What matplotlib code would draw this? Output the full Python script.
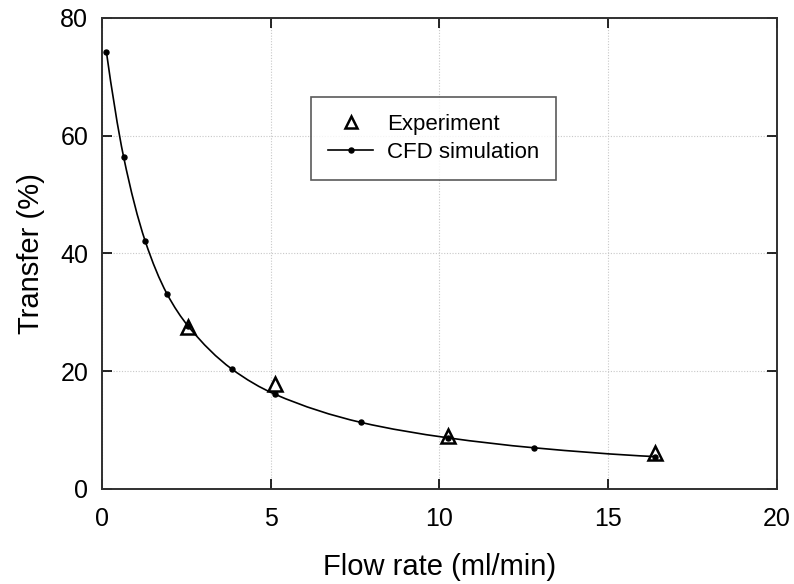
# Transfer vs flow rate: experiment against CFD simulation

import numpy
import matplotlib
matplotlib.use('Agg')
import matplotlib.pyplot
from matplotlib.path import Path
from matplotlib.patches import PathPatch
from matplotlib.lines import Line2D

# Data
cfd_flow = [0.128, 0.64, 1.28, 1.92, 2.56, 3.84, 5.12, 7.68, 10.24, 12.8, 16.384]
cfd_transfer = [74.3, 56.4, 42.1, 33.2, 27.6, 20.4, 16.1, 11.3, 8.7, 7.0, 5.5]
exp_flow = [2.56, 5.12, 10.24, 16.384]
exp_transfer = [27.5, 17.9, 9.0, 6.1]

x_ticks = [0, 5, 10, 15, 20]
y_ticks = [0, 20, 40, 60, 80]

matplotlib.rcParams['font.family'] = ['Liberation Sans', 'DejaVu Sans']

fig = matplotlib.pyplot.figure(figsize=(7.94, 5.84), dpi=100, facecolor='white')
ax = fig.add_axes([0.1285, 0.1627, 0.850, 0.8065])

# Grid
ax.grid(True, linestyle=(0, (1, 1.5)), linewidth=0.8, color='#c8c8c8', zorder=0)


# Smooth curve through the simulation points (monotone cubic Bezier segments)
def smooth_path(xs, ys):
    xs = numpy.asarray(xs, dtype=float)
    ys = numpy.asarray(ys, dtype=float)
    h = numpy.diff(xs)
    d = numpy.diff(ys) / h
    m = numpy.zeros_like(xs)
    for i in range(1, len(xs) - 1):
        if d[i - 1] * d[i] > 0:
            w1 = 2 * h[i] + h[i - 1]
            w2 = h[i] + 2 * h[i - 1]
            m[i] = (w1 + w2) / (w1 / d[i - 1] + w2 / d[i])
    m[0] = ((2 * h[0] + h[1]) * d[0] - h[0] * d[1]) / (h[0] + h[1])
    m[-1] = ((2 * h[-1] + h[-2]) * d[-1] - h[-1] * d[-2]) / (h[-1] + h[-2])
    verts = [(xs[0], ys[0])]
    codes = [Path.MOVETO]
    for i in range(len(xs) - 1):
        verts += [(xs[i] + h[i] / 3, ys[i] + m[i] * h[i] / 3),
                  (xs[i + 1] - h[i] / 3, ys[i + 1] - m[i + 1] * h[i] / 3),
                  (xs[i + 1], ys[i + 1])]
        codes += [Path.CURVE4] * 3
    return Path(verts, codes)


ax.add_patch(PathPatch(smooth_path(cfd_flow, cfd_transfer), facecolor='none',
                       edgecolor='black', linewidth=1.2, zorder=3))
ax.plot(cfd_flow, cfd_transfer, linestyle='none', marker='o', markersize=3.6,
        color='black', zorder=4)
ax.plot(exp_flow, exp_transfer, linestyle='none', marker='^', markersize=10,
        markerfacecolor='none', markeredgecolor='black', markeredgewidth=1.8,
        zorder=5)

# Axes range and ticks
ax.set_xlim(0, 20)
ax.set_ylim(0, 80)
ax.set_xticks(x_ticks)
ax.set_yticks(y_ticks)
ax.tick_params(direction='in', length=7, width=1.2, top=True, right=True,
               labelsize=18, colors='black')
ax.tick_params(axis='x', pad=13)
ax.tick_params(axis='y', pad=10)
for s in ax.spines.values():
    s.set_linewidth(1.4)
    s.set_color('#303030')

ax.set_xlabel('Flow rate (ml/min)', fontsize=21, labelpad=16)
ax.set_ylabel('Transfer (%)', fontsize=21, labelpad=11)

# Legend
handles = [Line2D([], [], linestyle='none', marker='^', markersize=8,
                  markerfacecolor='none', markeredgecolor='black',
                  markeredgewidth=1.8),
           Line2D([], [], color='black', linewidth=1.2, marker='o',
                  markersize=3.6)]
leg = ax.legend(handles, ['Experiment', 'CFD simulation'],
                loc='upper left', bbox_to_anchor=(0.31, 0.832),
                fontsize=16, frameon=True, fancybox=False, handlelength=2.05,
                borderpad=0.75, labelspacing=0.32, handletextpad=0.6,
                borderaxespad=0)
leg.get_frame().set_edgecolor('#303030')
leg.get_frame().set_linewidth(1.2)

matplotlib.pyplot.savefig('out.png', dpi=100, facecolor='white')
